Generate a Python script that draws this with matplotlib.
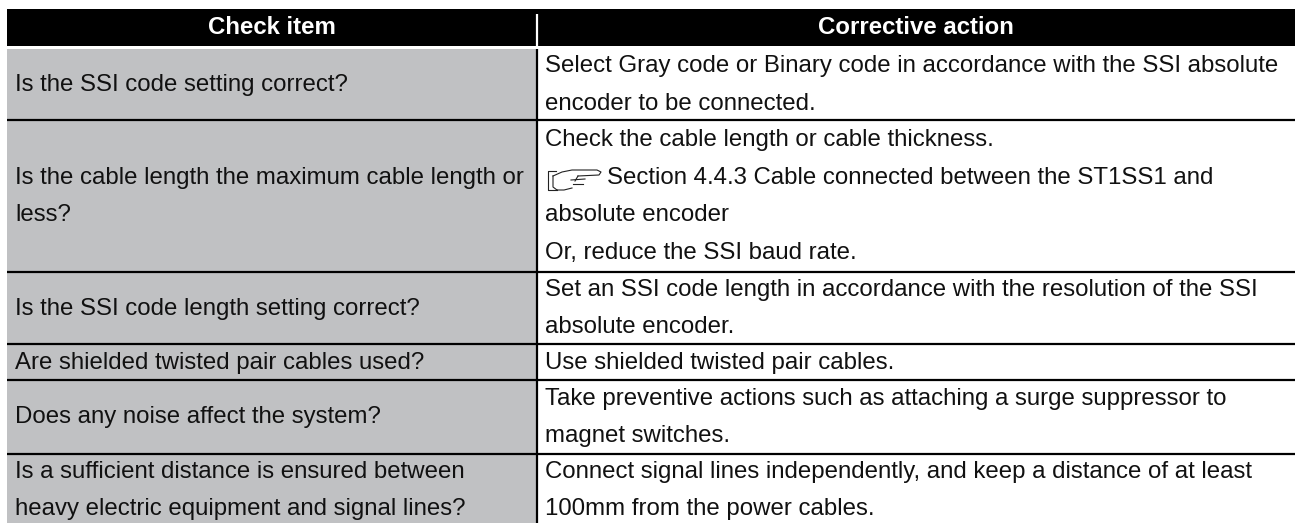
import matplotlib
matplotlib.use("Agg")
import matplotlib.pyplot as plt
from matplotlib.patches import Rectangle

plt.rcParams['font.family'] = ['Liberation Sans', 'DejaVu Sans']

W, H = 1295, 523
headers = ["Check item", "Corrective action"]
check_items = [
    ["Is the SSI code setting correct?"],
    ["Is the cable length the maximum cable length or", "less?"],
    ["Is the SSI code length setting correct?"],
    ["Are shielded twisted pair cables used?"],
    ["Does any noise affect the system?"],
    ["Is a sufficient distance is ensured between", "heavy electric equipment and signal lines?"],
]
actions = [
    ["Select Gray code or Binary code in accordance with the SSI absolute", "encoder to be connected."],
    ["Check the cable length or cable thickness.",
     "Section 4.4.3 Cable connected between the ST1SS1 and",
     "absolute encoder",
     "Or, reduce the SSI baud rate."],
    ["Set an SSI code length in accordance with the resolution of the SSI", "absolute encoder."],
    ["Use shielded twisted pair cables."],
    ["Take preventive actions such as attaching a surge suppressor to", "magnet switches."],
    ["Connect signal lines independently, and keep a distance of at least", "100mm from the power cables."],
]
row_edges = [49, 120, 272, 344, 380, 454, 526]
LINE = 37.4
FS = 17.3
BASE = 6.5

fig = plt.figure(figsize=(W/100, H/100), dpi=100)
ax = fig.add_axes([0, 0, 1, 1])
ax.set_xlim(0, W); ax.set_ylim(H, 0); ax.axis('off')

XL, XM, XR = 7, 537, 1295
TC = '#111111'
ax.add_patch(Rectangle((XL, 9), XR-XL, 37, fc='black', ec='none'))
ax.text((XL+XM)/2, 34.5, headers[0], color='white', weight='bold', ha='center', va='baseline', fontsize=FS)
ax.text((XM+XR)/2, 34.5, headers[1], color='white', weight='bold', ha='center', va='baseline', fontsize=FS)
ax.add_patch(Rectangle((XL, 49), XM-XL, H-49, fc='#c0c1c3', ec='none'))
ax.plot([XM, XM], [14, 46], color='white', lw=1.6, solid_capstyle='butt')
ax.plot([XM, XM], [49, H], color='black', lw=1.6, solid_capstyle='butt')
for y in row_edges[1:-1]:
    ax.plot([XL, XR], [y, y], color='black', lw=1.6, solid_capstyle='butt')

for i in range(len(check_items)):
    mid = (row_edges[i] + row_edges[i+1]) / 2
    n = len(check_items[i])
    for j, t in enumerate(check_items[i]):
        ax.text(15, mid + (j-(n-1)/2)*LINE + BASE, t, va='baseline', ha='left', fontsize=FS, color=TC)
    n = len(actions[i])
    for j, t in enumerate(actions[i]):
        x = 607 if t.startswith("Section") else 545
        ax.text(x, mid + (j-(n-1)/2)*LINE + BASE, t, va='baseline', ha='left', fontsize=FS, color=TC)

# Pointing-hand reference icon
hand = [
    ([556, 171, 548, 171, 548, 190, 557, 190], None),
    ([553, 176, 562, 172, 572, 170, 597, 170, 601, 172, 599, 175, 578, 176], None),
    ([578, 176, 575, 181], None),
    ([571, 180, 585, 179], None),
    ([573, 184, 583, 184], None),
    ([572, 188, 564, 190, 557, 190], None),
    ([553, 176, 553, 187, 557, 190], None),
]
for pts, _ in hand:
    ax.plot(pts[0::2], pts[1::2], color='#222222', lw=0.8, solid_joinstyle='round')

fig.savefig('out.png', dpi=100)
